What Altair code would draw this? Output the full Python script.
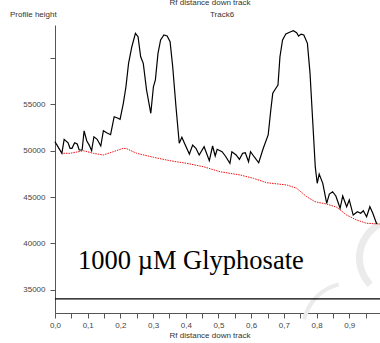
import altair as alt
import pandas as pd

# Densitometric profile of track 6 (Rf vs profile height)
rf = [0.000, 0.021, 0.028, 0.040, 0.046, 0.052, 0.060, 0.068, 0.074, 0.083,
      0.089, 0.097, 0.105, 0.112, 0.119, 0.129, 0.140, 0.148, 0.158, 0.170,
      0.181, 0.191, 0.199, 0.209, 0.217, 0.225, 0.235, 0.246, 0.254, 0.262,
      0.270, 0.280, 0.293, 0.301, 0.307, 0.315, 0.323, 0.333, 0.343, 0.352,
      0.360, 0.370, 0.380, 0.388, 0.397, 0.411, 0.421, 0.431, 0.441, 0.456,
      0.472, 0.482, 0.490, 0.496, 0.511, 0.521, 0.535, 0.541, 0.554, 0.564,
      0.574, 0.582, 0.592, 0.598, 0.609, 0.623, 0.637, 0.652, 0.660, 0.666,
      0.672, 0.682, 0.688, 0.696, 0.706, 0.721, 0.729, 0.739, 0.745, 0.753,
      0.761, 0.772, 0.780, 0.788, 0.796, 0.802, 0.808, 0.819, 0.831, 0.839,
      0.849, 0.859, 0.872, 0.880, 0.892, 0.900, 0.912, 0.925, 0.935, 0.943,
      0.953, 0.963, 0.972, 0.984]
height = [50970, 49720, 51230, 50860, 50260, 50260, 50860, 50720, 50080, 50080,
          52150, 51080, 50580, 50000, 51510, 51230, 50510, 52160, 51940, 51730,
          53670, 53530, 53390, 55120, 56910, 59440, 61230, 62680, 62310, 60150,
          59440, 56560, 54040, 56910, 57640, 60520, 61960, 62500, 62390, 61780,
          59070, 54750, 50800, 51450, 50720, 49640, 50620, 50260, 49540, 50430,
          48920, 50510, 49430, 50150, 49890, 49430, 48640, 49890, 49540, 49070,
          49720, 49780, 48810, 49890, 49350, 48700, 50260, 51700, 54400, 56200,
          56560, 57100, 60150, 61960, 62600, 62850, 62960, 62740, 62390, 62600,
          62500, 61600, 58360, 53320, 48270, 46480, 47480, 46480, 44320, 45320,
          45570, 45110, 43780, 45110, 43950, 44680, 43050, 43410, 43240, 43520,
          42870, 43950, 43240, 42080]

# Baseline under the profile
base_rf = [0.000, 0.021, 0.046, 0.087, 0.117, 0.148, 0.178, 0.209, 0.219, 0.250,
           0.301, 0.352, 0.403, 0.454, 0.505, 0.566, 0.607, 0.648, 0.709, 0.739,
           0.770, 0.795, 0.831, 0.862, 0.892, 0.923, 0.953, 0.994]
base_height = [50970, 49720, 49720, 50000, 49720, 49540, 49890, 50260, 50220, 49720,
               49290, 48920, 48640, 48270, 47730, 47380, 47020, 46540, 46300, 45940,
               45030, 44490, 44240, 43890, 43050, 42510, 42160, 42080]

threshold = 34000
x_ticks = [round(i * 0.05, 2) for i in range(20)]
y_ticks = [35000, 40000, 45000, 50000, 55000, 60000]

profile = pd.DataFrame({"rf": rf, "h": height})
baseline = pd.DataFrame({"rf": base_rf, "h": base_height})
one = pd.DataFrame({"k": [0]})

x_scale = alt.Scale(domain=[0, 0.994], nice=False, zero=False)
y_scale = alt.Scale(domain=[32470, 63580], nice=False, zero=False)

x_axis = alt.Axis(
    values=x_ticks, title=None, grid=False, labelOverlap=False,
    labelExpr="round(datum.value*20)%2==0 ? replace(format(datum.value,'.1f'),'.',',') : ''",
    tickSize=5, labelPadding=3, labelFlush=False,
)
y_axis = alt.Axis(
    values=y_ticks, title=None, grid=False, format="d", labelOverlap=False,
    labelExpr="datum.value < 60000 ? datum.label : ''",
    tickSize=5, labelPadding=5,
)

# faint logo arcs in the lower right corner
logo_a = alt.Chart(one).mark_arc(
    color="#ebebeb", radius=42, radius2=35, theta=3.95, theta2=5.78
).encode(x=alt.value(343), y=alt.value(233))
logo_b = alt.Chart(one).mark_arc(
    color="#ebebeb", radius=49, radius2=45, theta=4.94, theta2=6.04
).encode(x=alt.value(295), y=alt.value(305))

line = alt.Chart(profile).mark_line(color="black", strokeWidth=1.2).encode(
    x=alt.X("rf:Q", scale=x_scale, axis=x_axis),
    y=alt.Y("h:Q", scale=y_scale, axis=y_axis),
)

base = alt.Chart(baseline).mark_line(color="#ee1111", strokeWidth=1, strokeDash=[1.5, 1]).encode(
    x=alt.X("rf:Q", scale=x_scale, axis=x_axis),
    y=alt.Y("h:Q", scale=y_scale, axis=y_axis),
)

rule = alt.Chart(pd.DataFrame({"h": [threshold]})).mark_rule(color="black", strokeWidth=1.2).encode(
    y=alt.Y("h:Q", scale=y_scale, axis=y_axis),
)

def label(text, x, y, size=8, align="left", font="Liberation Sans", color="#333333"):
    return alt.Chart(pd.DataFrame({"t": [text]})).mark_text(
        align=align, baseline="alphabetic", fontSize=size, font=font, color=color
    ).encode(text="t:N", x=alt.value(x), y=alt.value(y))

texts = [
    label("Rf distance down track", 155, -20, align="center"),
    label("Profile height", -45, -8),
    label("Track6", 167, -8, align="center"),
    label("Rf distance down track", 155, 313, align="center"),
    label("1000 \u00b5M Glyphosate", 23, 244, size=26.5, font="Liberation Serif", color="black"),
]

chart = alt.layer(logo_a, logo_b, base, line, rule, *texts).properties(
    width=325, height=288,
    padding={"left": 55, "top": 25, "right": 0, "bottom": 30},
    autosize=alt.AutoSizeParams(type="none"),
).configure_view(stroke=None).configure_axis(
    domainColor="#555555", tickColor="#555555", labelColor="#444444",
    labelFont="Liberation Sans", labelFontSize=8, labelOverlap=False,
)

chart.save("out.html", embed_options={"renderer": "svg", "actions": False})
